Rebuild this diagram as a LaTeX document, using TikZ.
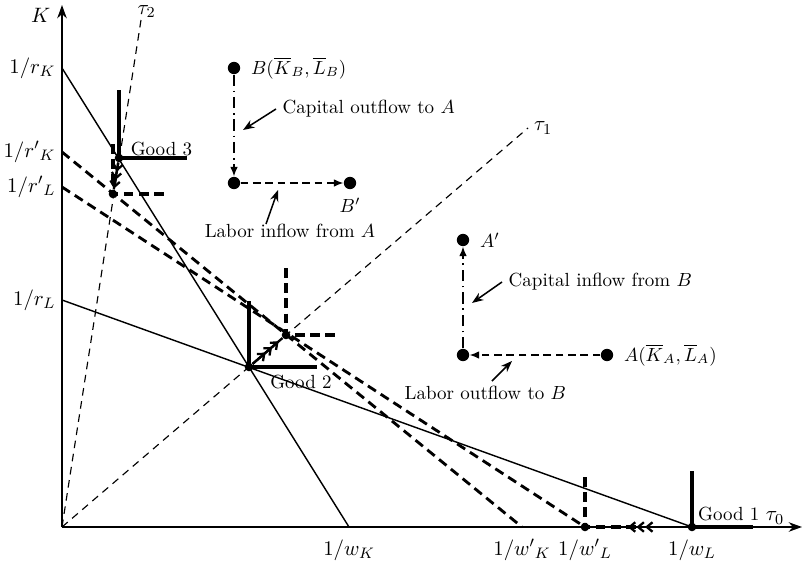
\documentclass[tikz,border=0pt]{standalone}
\usepackage{amsmath}
\usepackage{amssymb}
\usepackage{tikz}
\usetikzlibrary{arrows.meta, positioning, calc}

\begin{document}
\begin{tikzpicture}[
    x=0.0185cm, y=0.0185cm,
    font=\normalsize,
    axis/.style={-{Stealth[length=7pt, width=5pt]}, line width=1pt},
    budget/.style={line width=0.75pt},
    newbudget/.style={line width=1.5pt, dash pattern=on 5pt off 3pt},
    ray/.style={line width=0.6pt, dash pattern=on 4pt off 3pt},
    iso/.style={line width=2pt},
    newiso/.style={line width=2pt, dash pattern=on 5pt off 3pt},
    lflow/.style={-{Latex[length=5pt, width=4pt]}, line width=0.8pt, dash pattern=on 4pt off 2.5pt},
    kflow/.style={-{Latex[length=5pt, width=4pt]}, line width=0.8pt, dash pattern=on 6pt off 2.5pt on 0.8pt off 2.5pt},
    note/.style={-{Stealth[length=6pt]}, line width=0.8pt},
    shiftarr/.style={line width=1.2pt, -{Straight Barb[length=3pt, width=5pt]Straight Barb[length=3pt, width=5pt]Straight Barb[length=3pt, width=5pt]}},
    bigdot/.style={circle, fill, inner sep=0pt, minimum size=6.5pt},
    gdot/.style={circle, fill, inner sep=0pt, minimum size=4.5pt},
    tick/.style={font=\fontsize{11}{13}\selectfont},
]
\useasboundingbox (-62,-34) rectangle (743,527);

% ============ Axes ============
\coordinate (O) at (0,0);
\coordinate (yend) at (0,522);
\coordinate (xend) at (740,0);
\draw[axis] (O) -- (yend);
\draw[axis] (O) -- (xend);
\node[anchor=east, tick] (lK) at (-5,512) {$K$};
\node[tick] (ltau0) at (713,9) {$\tau_0$};

% intercepts
\coordinate (rK) at (0,459);
\coordinate (rKp) at (0,375);
\coordinate (rLp) at (0,340);
\coordinate (rL) at (0,227);
\coordinate (wK) at (287,0);
\coordinate (wKp) at (460,0);
\coordinate (wLp) at (523,0);
\coordinate (wL) at (630,0);

\node[tick, left=0pt of rK] (lrK) {$1/r_K$};
\node[tick, left=0pt of rKp] (lrKp) {$1/{r'}_K$};
\node[tick, left=0pt of rLp] (lrLp) {$1/{r'}_L$};
\node[tick, left=0pt of rL] (lrL) {$1/r_L$};
\node[tick, below=3pt of wK] (lwK) {$1/w_K$};
\node[tick, below=3pt of wKp] (lwKp) {$1/{w'}_K$};
\node[tick, below=3pt of wLp] (lwLp) {$1/{w'}_L$};
\node[tick, below=3pt of wL] (lwL) {$1/w_L$};

% ============ Unit cost lines ============
\draw[budget] (rK) -- (wK);
\draw[budget] (rL) -- (wL);
\draw[newbudget] (rKp) -- (wKp);
\draw[newbudget] (rLp) -- (wLp);

% ============ Rays ============
\coordinate (t2end) at (79,507);
\coordinate (t1end) at (466,399);
\node[tick, anchor=south, inner sep=1pt, xshift=3pt] (ltau2) at (t2end) {$\tau_2$};
\node[tick, anchor=west, inner sep=1pt, xshift=2pt] (ltau1) at (t1end) {$\tau_1$};
\draw[ray] (O) -- (t2end);
\draw[ray] (O) -- (t1end);

% ============ Goods ============
\node[gdot] (g3) at (57,369) {};
\node[gdot] (g3p) at (51,333) {};
\node[gdot] (g2) at (187,160) {};
\node[gdot] (g2p) at (224,192) {};
\node[gdot] (g1) at (630,0) {};
\node[gdot] (g1p) at (523,0) {};

% old isoquants
\draw[iso] (57,437) -- (g3.center) -- (125,369);
\draw[iso] (187,226) -- (g2.center) -- (255,160);
\draw[iso] (630,56) -- (g1.center) -- (691,0);
% new isoquants
\draw[newiso] (51,383) -- (g3p.center) -- (103,333);
\draw[newiso] (224,259) -- (g2p.center) -- (276,192);
\draw[newiso] (523,50) -- (g1p.center) -- (575,0);

% shifts
\draw[line width=1.2pt] (g3) -- (g3p);
\draw[shiftarr] (g3) -- ($(g3)!0.85!(g3p)$);
\draw[line width=1.2pt] (g2) -- (g2p);
\draw[shiftarr] (g2) -- ($(g2)!0.8!(g2p)$);
\draw[shiftarr] (g1) -- ($(g1)!0.6!(g1p)$);

\node[anchor=south west, inner sep=1pt, xshift=5pt] (lg3) at (g3) {Good 3};
\node[anchor=north west, inner sep=1pt, xshift=10pt, yshift=-3pt] (lg2) at (g2) {Good 2};
\node[anchor=south west, inner sep=1pt, xshift=2pt, yshift=2pt] (lg1) at (g1) {Good 1};

% ============ Country B ============
\node[bigdot] (B) at (172,459) {};
\node[bigdot] (B0) at (172,344) {};
\node[bigdot] (Bp) at (288,344) {};
\node[right=2pt of B] (lB) {$B(\overline{K}_B,\overline{L}_B)$};
\node[below=1pt of Bp] (lBp) {$B'$};
\draw[kflow] (B) -- (B0);
\draw[lflow] (B0) -- (Bp);

\node[anchor=west] (capout) at (214,418) {Capital outflow to $A$};
\draw[note] (capout.west) -- (181,397);
\node (labin) at (228,296) {Labor inflow from $A$};
\draw[note] (204,303) -- (216,337);

% ============ Country A ============
\node[bigdot] (A) at (545,172) {};
\node[bigdot] (A0) at (401,172) {};
\node[bigdot] (Ap) at (401,287) {};
\node[right=2pt of A] (lA) {$A(\overline{K}_A,\overline{L}_A)$};
\node[right=2pt of Ap] (lAp) {$A'$};
\draw[lflow] (A) -- (A0);
\draw[kflow] (A0) -- (Ap);

\node[anchor=west] (capin) at (440,245) {Capital inflow from $B$};
\draw[note] (capin.west) -- (410,224);
\node[anchor=west] (labout) at (336,134) {Labor outflow to $B$};
\draw[note] (430,146) -- (450,166);

\end{tikzpicture}
\end{document}
